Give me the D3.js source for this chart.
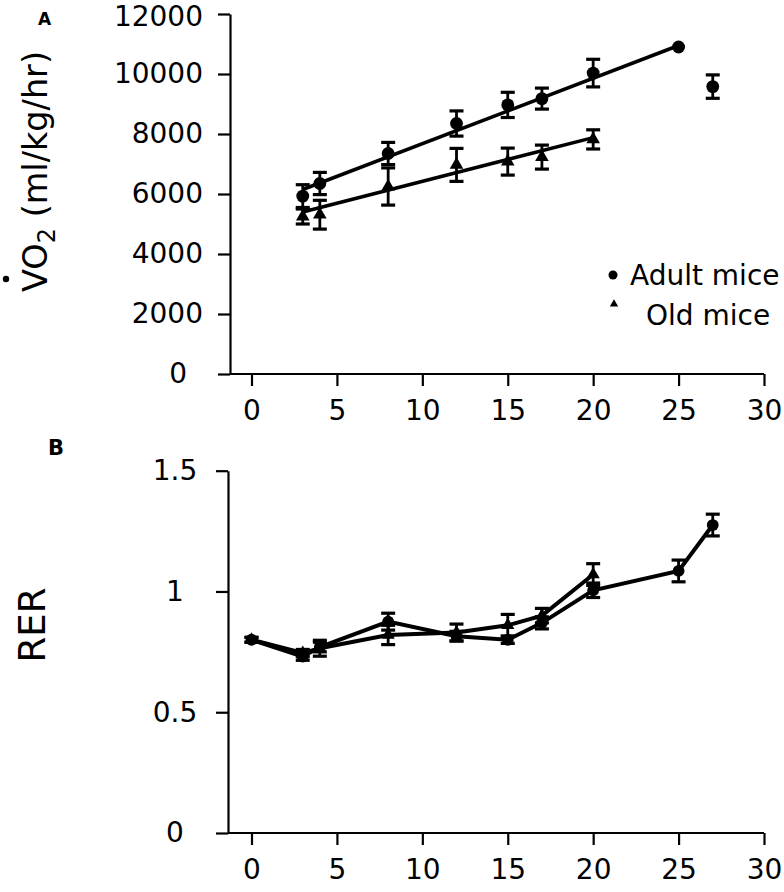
<!DOCTYPE html>
<html><head><meta charset="utf-8">
<script src="https://cdn.jsdelivr.net/npm/d3@7"></script>
<style>
body{margin:0;background:#fff}
text{font-family:"DejaVu Sans",Arial,sans-serif;fill:#000}
</style>
</head><body>
<svg id="c" width="784" height="892"></svg>
<script>
// ---- data ----
const xTicks = [0, 5, 10, 15, 20, 25, 30];
const vo2Ticks = [0, 2000, 4000, 6000, 8000, 10000, 12000];
const rerTicks = [0, 0.5, 1, 1.5];

const adultDaysA = [3, 4, 8, 12, 15, 17, 20, 25, 27];
const adultVO2 = [5930, 6350, 7350, 8350, 8970, 9180, 10030, 10900, 9580];
const adultVO2Err = [380, 370, 370, 420, 420, 350, 460, 0, 390];

const oldDaysA = [3, 4, 8, 12, 15, 17, 20];
const oldVO2 = [5250, 5310, 6250, 6970, 7080, 7230, 7820];
const oldVO2Err = [250, 480, 620, 550, 450, 400, 320];

const adultFitX = [3, 25];
const adultFitY = [6150, 10950];
const oldFitX = [3, 20];
const oldFitY = [5400, 7880];

const adultDaysB = [0, 3, 4, 8, 12, 15, 17, 20, 25, 27];
const adultRER = [0.80, 0.73, 0.77, 0.875, 0.815, 0.80, 0.87, 1.005, 1.085, 1.275];
const adultRERErr = [0.01, 0.015, 0.02, 0.035, 0.02, 0.015, 0.025, 0.03, 0.045, 0.045];

const oldDaysB = [0, 3, 4, 8, 12, 15, 17, 20];
const oldRER = [0.80, 0.745, 0.765, 0.82, 0.83, 0.86, 0.90, 1.07];
const oldRERErr = [0.01, 0.015, 0.033, 0.04, 0.035, 0.045, 0.03, 0.045];

const seriesNames = ["Adult mice", "Old mice"];

// ---- drawing ----
const svg = d3.select("#c");
svg.append("rect").attr("width", 784).attr("height", 892).attr("fill", "#fff");

const x = d3.scaleLinear().domain([0, 30]).range([251.5, 764]);
const yA = d3.scaleLinear().domain([0, 12000]).range([374, 14]);
const yB = d3.scaleLinear().domain([0, 1.5]).range([833, 470.7]);

function axes(y, axisX, ticks, fmt, mode) {
  const y0 = y.range()[0];
  const gy = svg.append("g").attr("transform", `translate(${axisX},0)`)
    .call(d3.axisLeft(y).tickValues(ticks).tickSize(12).tickSizeOuter(0).tickPadding(15).tickFormat(fmt));
  gy.selectAll("path,line").attr("stroke", "#000").attr("stroke-width", 2.2);
  gy.selectAll("text").attr("font-size", 28).attr("fill", "#000");
  if (mode === "A") {
    gy.selectAll("text").filter(d => d === 0).attr("dx", -16);
    gy.selectAll("text").filter(d => d === 12000).attr("dy", "0.4em");
  } else {
    gy.selectAll("text").attr("text-anchor", "middle").attr("x", 175 - axisX);
  }
  const gx = svg.append("g").attr("transform", `translate(0,${y0})`)
    .call(d3.axisBottom(x).tickValues(xTicks).tickSize(12).tickSizeOuter(0));
  gx.select(".domain").remove();
  gx.selectAll("line").attr("stroke", "#000").attr("stroke-width", 2.2);
  gx.selectAll("text").attr("font-size", 28).attr("y", 46).attr("dy", 0).attr("fill", "#000");
  svg.append("line").attr("x1", axisX).attr("x2", x(30)).attr("y1", y0).attr("y2", y0)
    .attr("stroke", "#000").attr("stroke-width", 2.2);
}

function errBars(days, vals, errs, y, hw) {
  const g = svg.append("g").attr("stroke", "#000").attr("stroke-width", 2.8);
  days.forEach((d, i) => {
    if (!errs[i]) return;
    const cx = x(d), t = y(vals[i] + errs[i]), b = y(vals[i] - errs[i]);
    g.append("line").attr("x1", cx).attr("x2", cx).attr("y1", t).attr("y2", b);
    g.append("line").attr("x1", cx - hw).attr("x2", cx + hw).attr("y1", t).attr("y2", t).attr("stroke-width", 3.2);
    g.append("line").attr("x1", cx - hw).attr("x2", cx + hw).attr("y1", b).attr("y2", b).attr("stroke-width", 3.2);
  });
}

function markers(days, vals, y, type, size) {
  const sym = d3.symbol().type(type).size(size);
  svg.append("g").selectAll("path").data(days).join("path")
    .attr("d", sym)
    .attr("transform", (d, i) => `translate(${x(d)},${y(vals[i])})`)
    .attr("fill", "#000");
}

// Panel A
axes(yA, 230, vo2Ticks, d3.format("d"), "A");
const fitLine = d3.line().x(d => x(d[0])).y(d => yA(d[1]));
svg.append("path").attr("d", fitLine(d3.zip(adultFitX, adultFitY)))
  .attr("fill", "none").attr("stroke", "#000").attr("stroke-width", 3.5);
svg.append("path").attr("d", fitLine(d3.zip(oldFitX, oldFitY)))
  .attr("fill", "none").attr("stroke", "#000").attr("stroke-width", 3.5);
errBars(adultDaysA, adultVO2, adultVO2Err, yA, 7);
errBars(oldDaysA, oldVO2, oldVO2Err, yA, 7);
markers(adultDaysA, adultVO2, yA, d3.symbolCircle, 130);
markers(oldDaysA, oldVO2, yA, d3.symbolTriangle, 80);

// legend
svg.append("circle").attr("cx", 613).attr("cy", 275).attr("r", 4.5).attr("fill", "#000");
svg.append("path").attr("d", d3.symbol().type(d3.symbolTriangle).size(30)())
  .attr("transform", "translate(614,304)").attr("fill", "#000");
svg.append("text").attr("x", 630).attr("y", 285).attr("font-size", 28).text(seriesNames[0]);
svg.append("text").attr("x", 646).attr("y", 325).attr("font-size", 28).text(seriesNames[1]);

// y title A
const tA = svg.append("text").attr("transform", "translate(47,292) rotate(-90)").attr("font-size", 33.5);
tA.append("tspan").text("VO");
tA.append("tspan").attr("font-size", 24).attr("dy", 8).text("2");
tA.append("tspan").attr("dy", -8).text(" (ml/kg/hr)");
svg.append("circle").attr("cx", 6).attr("cy", 279).attr("r", 3.2).attr("fill", "#000");

svg.append("text").attr("x", 38).attr("y", 25).attr("font-size", 17).attr("font-weight", "bold").text("A");

// Panel B
axes(yB, 228, rerTicks, d => String(d), "B");
const rerLine = d3.line().x(d => x(d[0])).y(d => yB(d[1]));
svg.append("path").attr("d", rerLine(d3.zip(oldDaysB, oldRER)))
  .attr("fill", "none").attr("stroke", "#000").attr("stroke-width", 4);
svg.append("path").attr("d", rerLine(d3.zip(adultDaysB, adultRER)))
  .attr("fill", "none").attr("stroke", "#000").attr("stroke-width", 4);
errBars(adultDaysB, adultRER, adultRERErr, yB, 7);
errBars(oldDaysB, oldRER, oldRERErr, yB, 7);
markers(adultDaysB, adultRER, yB, d3.symbolCircle, 110);
markers(oldDaysB, oldRER, yB, d3.symbolTriangle, 75);

svg.append("text").attr("transform", "translate(45,625) rotate(-90)").attr("text-anchor", "middle")
  .attr("font-size", 37).text("RER");
svg.append("text").attr("x", 48).attr("y", 455).attr("font-size", 21).attr("font-weight", "bold").text("B");
</script>
</body></html>
